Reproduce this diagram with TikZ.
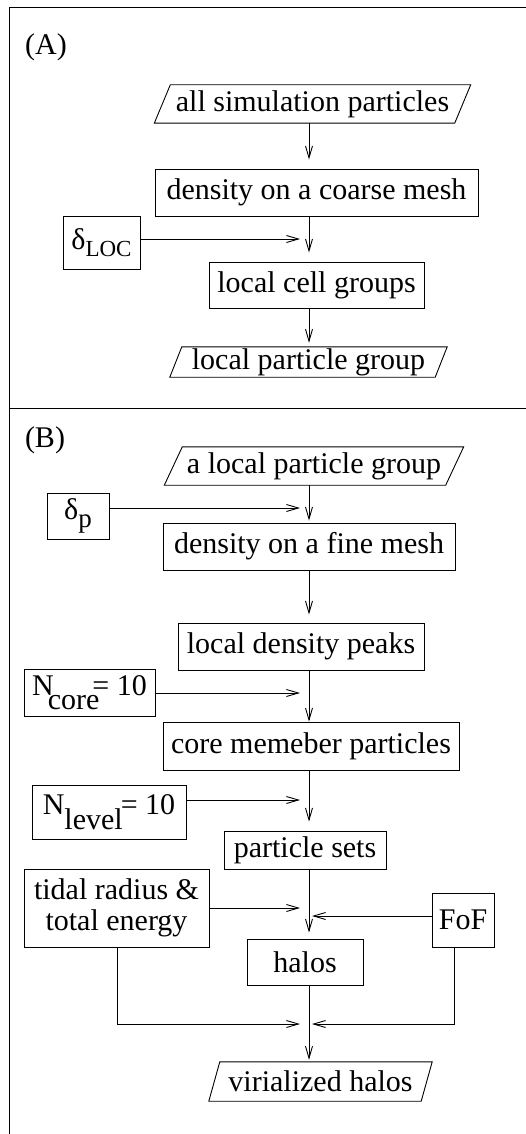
\documentclass[tikz,border=0pt]{standalone}
\usepackage{fontspec}
\setmainfont{Liberation Serif}
\usetikzlibrary{arrows.meta,calc}
\tikzset{
  every node/.style={font=\fontsize{30}{31}\selectfont, inner sep=0pt},
  box/.style={draw, line width=0.9pt},
  ln/.style={line width=0.9pt},
  arr/.style={ln, -{Straight Barb[length=12pt,width=7pt,line width=0.9pt]}},
  plg/.style={line width=0.9pt},
}
\newcommand\paragram[2]{\draw[plg] ([xshift=-#2]#1.south west) -- ([xshift=-#2]#1.south east) -- ([xshift=#2]#1.north east) -- ([xshift=#2]#1.north west) -- cycle;}
\begin{document}
\begin{tikzpicture}[x=1pt,y=-1pt]
\useasboundingbox (0,0) rectangle (526,1134);
% frame
\draw[ln] (526,7) -- (9,7) -- (9,1134);
\draw[ln] (9,408) -- (526,408);
\coordinate (ax) at (309,0);
% Panel A
\node (lA) at (46,47) {(A)};
\node[minimum width=300pt, minimum height=38pt] (p1) at (312.5,104) {all simulation particles};
\paragram{p1}{8pt}
\node[box, minimum width=323pt, minimum height=47pt] (b1) at (316.5,192.5) {density on a coarse mesh};
\node[box, minimum width=77pt, minimum height=53pt] (dloc) at (101.5,242.5) {δ\raisebox{-7pt}{\fontsize{23}{23}\selectfont LOC}};
\node[box, minimum width=215pt, minimum height=46pt] (b2) at (316.5,285) {local cell groups};
\node[minimum width=265pt, minimum height=30pt] (p2) at (308.5,362) {local particle group};
\paragram{p2}{6pt}
\draw[arr, shorten >=9pt] (p1.south -| ax) -- (b1.north -| ax);
\draw[arr, shorten >=9pt] (b1.south -| ax) -- (b2.north -| ax);
\draw[arr, shorten >=4pt] (b2.south -| ax) -- (p2.north -| ax);
\coordinate (hA) at (300,239);
\draw[arr] (dloc.east |- hA) -- (hA);
% Panel B
\node (lB) at (45,440) {(B)};
\node[minimum width=281pt, minimum height=38pt] (p3) at (314,466) {a local particle group};
\paragram{p3}{9pt}
\node[box, minimum width=62pt, minimum height=46pt] (dp) at (78,516) {δ\raisebox{-8pt}{\fontsize{27}{27}\selectfont p}};
\node[box, minimum width=292pt, minimum height=47pt] (b3) at (309,546.5) {density on a fine mesh};
\node[box, minimum width=246pt, minimum height=47pt] (b4) at (301,646.5) {local density peaks};
\node[box, minimum width=131pt, minimum height=47pt] (ncore) at (89.5,692.5) {N\kern-6pt\raisebox{-14pt}{core}\kern-7pt= 10};
\node[box, minimum width=296pt, minimum height=48pt] (b5) at (311,746) {core memeber particles};
\node[box, minimum width=154pt, minimum height=54pt] (nlevel) at (109,812) {N\raisebox{-15pt}{level}\kern-2pt= 10};
\node[box, minimum width=162pt, minimum height=38pt] (b6) at (305,850) {particle sets};
\node[box, minimum width=185pt, minimum height=78pt, align=center] (tidal) at (116.5,908) {tidal radius \&\\ total energy};
\node[box, minimum width=62pt, minimum height=54pt] (fof) at (463,920) {FoF};
\node[box, minimum width=116pt, minimum height=46pt] (halos) at (305,962) {halos};
\node[minimum width=212pt, minimum height=39pt] (p4) at (320.5,1081.5) {virialized halos};
\paragram{p4}{5.5pt}
% vertical flow
\draw[arr, shorten >=2pt] (p3.south -| ax) -- (b3.north -| ax);
\draw[arr, shorten >=8pt] (b3.south -| ax) -- (b4.north -| ax);
\draw[arr] (b4.south -| ax) -- (b5.north -| ax);
\draw[arr, shorten >=9pt] (b5.south -| ax) -- (b6.north -| ax);
\draw[arr, shorten >=6pt] (b6.south -| ax) -- (halos.north -| ax);
\draw[arr, shorten >=2pt] (halos.south -| ax) -- (p4.north -| ax);
% side inputs
\coordinate (hB1) at (300,508);
\draw[arr] (dp.east |- hB1) -- (hB1);
\coordinate (hB2) at (300,693);
\draw[arr] (ncore.east |- hB2) -- (hB2);
\coordinate (hB3) at (300,800);
\draw[arr] (nlevel.east |- hB3) -- (hB3);
\coordinate (hB4) at (300,908);
\draw[arr] (tidal.east |- hB4) -- (hB4);
\coordinate (hB5) at (312,916);
\draw[arr] (fof.west |- hB5) -- (hB5);
\coordinate (tb) at (117,1024);
\coordinate (hB6) at (300,1024);
\draw[arr] (tidal.south -| tb) -- (tb) -- (hB6);
\coordinate (fb) at (454,1024);
\coordinate (hB7) at (312,1024);
\draw[arr] (fof.south -| fb) -- (fb) -- (hB7);
\end{tikzpicture}
\end{document}
